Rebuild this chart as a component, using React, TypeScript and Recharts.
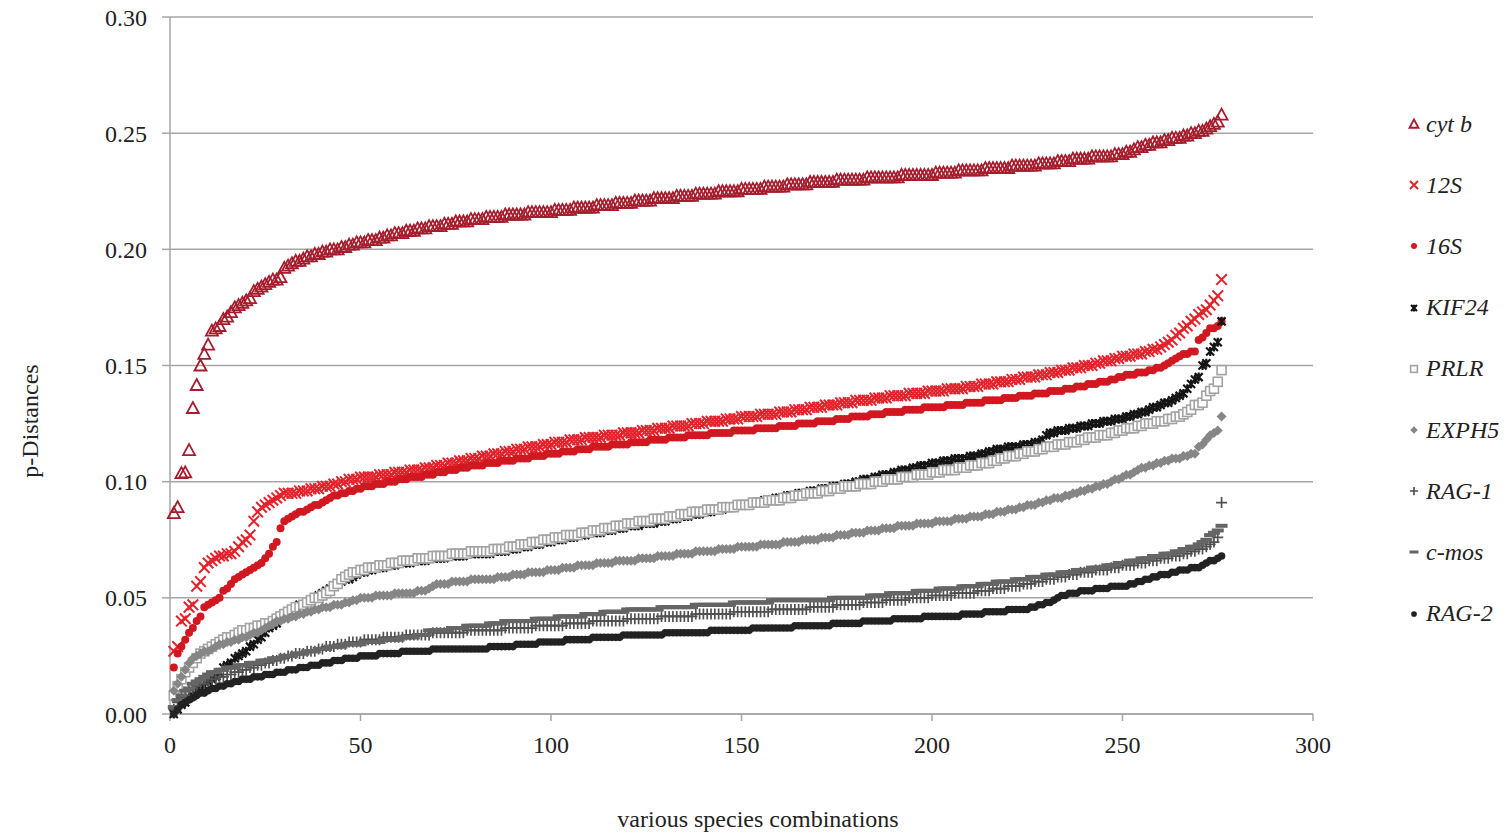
import React from 'react';
import { ScatterChart, Scatter, XAxis, YAxis, CartesianGrid } from 'recharts';

// p-distances per gene, sorted ascending; x = rank of the species pair (1..276)
const cytB = [
  .0865, .089, .1037, .104, .1136, .1317, .1416, .150, .155, .159,
  .165, .166, .167, .170, .171, .173, .175, .176, .177, .178,
  .179, .182, .183, .184, .185, .186, .187, .187, .188, .192,
  .193, .194, .195, .195, .196, .197, .197, .198, .198, .199,
  .199, .200, .200, .200, .201, .201, .202, .202, .203, .203,
  .203, .204, .204, .204, .205, .205, .206, .206, .207, .207,
  .207, .208, .208, .208, .209, .209, .209, .210, .210, .210,
  .210, .211, .211, .211, .212, .212, .212, .212, .213, .213,
  .213, .213, .214, .214, .214, .214, .214, .215, .215, .215,
  .215, .215, .215, .216, .216, .216, .216, .216, .216, .216,
  .217, .217, .217, .217, .217, .218, .218, .218, .218, .218,
  .218, .219, .219, .219, .219, .219, .220, .220, .220, .220,
  .220, .221, .221, .221, .221, .221, .222, .222, .222, .222,
  .222, .222, .223, .223, .223, .223, .223, .224, .224, .224,
  .224, .224, .224, .225, .225, .225, .225, .225, .225, .226,
  .226, .226, .226, .226, .226, .227, .227, .227, .227, .227,
  .227, .228, .228, .228, .228, .228, .228, .229, .229, .229,
  .229, .229, .229, .229, .230, .230, .230, .230, .230, .230,
  .230, .230, .231, .231, .231, .231, .231, .231, .231, .231,
  .231, .232, .232, .232, .232, .232, .232, .232, .232, .232,
  .233, .233, .233, .233, .233, .233, .234, .234, .234, .234,
  .234, .234, .234, .235, .235, .235, .235, .235, .235, .235,
  .236, .236, .236, .236, .236, .236, .236, .237, .237, .237,
  .237, .237, .238, .238, .238, .238, .239, .239, .239, .239,
  .239, .240, .240, .240, .240, .240, .240, .241, .241, .241,
  .242, .242, .243, .244, .244, .245, .245, .246, .246, .246,
  .247, .247, .248, .248, .248, .249, .249, .250, .250, .251,
  .251, .252, .253, .254, .255, .258,
];

const s12 = [
  .027, .029, .040, .041, .046, .047, .055, .057, .063, .065,
  .066, .067, .068, .068, .069, .069, .070, .072, .074, .075,
  .077, .083, .087, .089, .090, .091, .092, .093, .094, .095,
  .095, .095, .095, .096, .096, .096, .097, .097, .097, .098,
  .098, .098, .099, .099, .100, .100, .101, .101, .101, .102,
  .102, .102, .102, .102, .103, .103, .103, .103, .104, .104,
  .104, .104, .105, .105, .105, .105, .106, .106, .106, .107,
  .107, .107, .108, .108, .108, .109, .109, .109, .110, .110,
  .110, .111, .111, .111, .112, .112, .112, .113, .113, .113,
  .114, .114, .114, .115, .115, .115, .115, .116, .116, .116,
  .117, .117, .117, .117, .118, .118, .118, .118, .119, .119,
  .119, .119, .119, .120, .120, .120, .120, .120, .121, .121,
  .121, .121, .121, .122, .122, .122, .122, .123, .123, .123,
  .123, .124, .124, .124, .124, .124, .125, .125, .125, .125,
  .126, .126, .126, .126, .126, .127, .127, .127, .127, .128,
  .128, .128, .128, .128, .129, .129, .129, .129, .129, .130,
  .130, .130, .130, .131, .131, .131, .131, .132, .132, .132,
  .132, .133, .133, .133, .133, .134, .134, .134, .134, .135,
  .135, .135, .135, .135, .136, .136, .136, .136, .137, .137,
  .137, .137, .137, .138, .138, .138, .138, .138, .139, .139,
  .139, .139, .139, .140, .140, .140, .140, .140, .141, .141,
  .141, .141, .142, .142, .142, .142, .143, .143, .143, .143,
  .144, .144, .144, .145, .145, .145, .145, .146, .146, .146,
  .147, .147, .147, .148, .148, .148, .149, .149, .149, .150,
  .150, .150, .151, .151, .152, .152, .152, .153, .153, .154,
  .154, .154, .155, .155, .155, .156, .156, .157, .157, .158,
  .159, .160, .161, .163, .164, .166, .167, .169, .170, .172,
  .173, .174, .176, .178, .180, .187,
];

const s16 = [
  .020, .026, .029, .032, .035, .037, .040, .042, .046, .047,
  .048, .049, .050, .053, .054, .056, .058, .059, .060, .061,
  .062, .063, .064, .065, .067, .069, .072, .074, .080, .083,
  .084, .085, .086, .087, .087, .088, .089, .090, .090, .091,
  .092, .093, .094, .094, .095, .095, .096, .096, .097, .097,
  .098, .098, .098, .099, .099, .099, .100, .100, .100, .101,
  .101, .101, .102, .102, .102, .102, .103, .103, .103, .104,
  .104, .104, .105, .105, .105, .106, .106, .106, .107, .107,
  .107, .107, .108, .108, .108, .108, .109, .109, .109, .109,
  .110, .110, .110, .110, .111, .111, .111, .111, .112, .112,
  .112, .112, .113, .113, .113, .113, .114, .114, .114, .114,
  .115, .115, .115, .115, .115, .116, .116, .116, .116, .116,
  .117, .117, .117, .117, .117, .118, .118, .118, .118, .118,
  .119, .119, .119, .119, .119, .120, .120, .120, .120, .120,
  .120, .121, .121, .121, .121, .121, .121, .122, .122, .122,
  .122, .122, .122, .123, .123, .123, .123, .123, .123, .124,
  .124, .124, .124, .124, .125, .125, .125, .125, .125, .126,
  .126, .126, .126, .126, .127, .127, .127, .127, .128, .128,
  .128, .128, .128, .129, .129, .129, .129, .130, .130, .130,
  .130, .130, .131, .131, .131, .131, .131, .132, .132, .132,
  .132, .132, .132, .133, .133, .133, .133, .133, .134, .134,
  .134, .134, .134, .135, .135, .135, .135, .135, .136, .136,
  .136, .136, .137, .137, .137, .137, .138, .138, .138, .138,
  .139, .139, .139, .139, .140, .140, .140, .141, .141, .141,
  .142, .142, .142, .143, .143, .143, .144, .144, .145, .145,
  .146, .146, .146, .147, .147, .147, .148, .148, .149, .149,
  .150, .151, .152, .153, .154, .155, .155, .156, .156, .161,
  .162, .164, .166, .166, .167, .169,
];

const kif24 = [
  .000, .002, .004, .005, .007, .008, .010, .011, .012, .014,
  .015, .016, .018, .020, .021, .022, .024, .025, .026, .027,
  .029, .030, .032, .033, .035, .037, .038, .039, .041, .042,
  .043, .044, .045, .047, .047, .048, .049, .050, .051, .052,
  .053, .054, .055, .056, .057, .058, .058, .059, .060, .061,
  .061, .062, .062, .063, .063, .063, .064, .064, .064, .065,
  .065, .065, .065, .066, .066, .066, .066, .067, .067, .067,
  .067, .067, .068, .068, .068, .068, .068, .069, .069, .069,
  .069, .069, .069, .069, .070, .070, .070, .070, .071, .071,
  .071, .072, .072, .072, .073, .073, .073, .074, .074, .074,
  .075, .075, .075, .076, .076, .076, .077, .077, .077, .078,
  .078, .078, .078, .079, .079, .079, .080, .080, .080, .081,
  .081, .081, .081, .082, .082, .082, .082, .083, .083, .083,
  .084, .084, .084, .085, .085, .085, .086, .086, .086, .087,
  .087, .087, .088, .088, .088, .089, .089, .089, .090, .090,
  .090, .090, .091, .091, .091, .092, .092, .092, .093, .093,
  .093, .094, .094, .094, .095, .095, .095, .096, .096, .096,
  .097, .097, .097, .098, .098, .098, .099, .099, .099, .100,
  .100, .101, .101, .101, .102, .102, .103, .103, .103, .104,
  .104, .105, .105, .105, .106, .106, .107, .107, .107, .108,
  .108, .108, .109, .109, .109, .110, .110, .110, .110, .111,
  .111, .111, .112, .112, .113, .113, .114, .114, .114, .115,
  .115, .115, .115, .116, .116, .116, .117, .117, .118, .120,
  .121, .121, .122, .122, .122, .123, .123, .123, .124, .124,
  .124, .125, .125, .125, .126, .126, .126, .127, .127, .127,
  .128, .128, .129, .129, .130, .130, .131, .132, .132, .133,
  .134, .134, .135, .136, .137, .138, .140, .142, .144, .145,
  .150, .151, .156, .158, .160, .169,
];

const prlr = [
  .008, .012, .015, .018, .020, .022, .024, .026, .027, .028,
  .029, .030, .031, .032, .033, .033, .034, .035, .036, .036,
  .037, .037, .038, .038, .039, .039, .040, .041, .042, .043,
  .044, .045, .046, .046, .047, .048, .049, .050, .050, .051,
  .052, .053, .055, .056, .058, .059, .060, .061, .061, .062,
  .062, .063, .063, .063, .064, .064, .064, .065, .065, .065,
  .066, .066, .066, .066, .067, .067, .067, .067, .068, .068,
  .068, .068, .068, .069, .069, .069, .069, .069, .070, .070,
  .070, .070, .070, .070, .071, .071, .071, .071, .072, .072,
  .072, .073, .073, .073, .074, .074, .074, .075, .075, .075,
  .076, .076, .076, .077, .077, .077, .077, .078, .078, .078,
  .079, .079, .079, .080, .080, .080, .081, .081, .081, .082,
  .082, .082, .083, .083, .083, .083, .084, .084, .084, .084,
  .085, .085, .085, .086, .086, .086, .087, .087, .087, .087,
  .088, .088, .088, .088, .089, .089, .089, .089, .090, .090,
  .090, .090, .091, .091, .091, .091, .092, .092, .092, .092,
  .093, .093, .093, .094, .094, .094, .095, .095, .095, .095,
  .096, .096, .096, .097, .097, .097, .098, .098, .098, .098,
  .099, .099, .099, .099, .100, .100, .100, .101, .101, .101,
  .101, .102, .102, .102, .102, .103, .103, .103, .103, .104,
  .104, .104, .105, .105, .105, .105, .106, .106, .106, .107,
  .107, .107, .108, .108, .108, .109, .109, .110, .110, .111,
  .111, .111, .112, .112, .113, .113, .113, .114, .114, .115,
  .115, .115, .116, .116, .116, .117, .117, .117, .118, .118,
  .119, .119, .119, .120, .120, .120, .121, .121, .122, .122,
  .123, .123, .123, .124, .124, .125, .125, .125, .126, .126,
  .126, .127, .127, .128, .128, .129, .130, .131, .133, .133,
  .134, .137, .139, .140, .143, .148,
];

const exph5 = [
  .010, .013, .016, .019, .022, .024, .025, .026, .027, .027,
  .028, .029, .030, .030, .031, .031, .032, .032, .033, .033,
  .034, .035, .035, .036, .037, .038, .039, .040, .040, .041,
  .041, .042, .042, .043, .043, .044, .044, .045, .045, .046,
  .046, .046, .047, .047, .047, .048, .048, .049, .049, .050,
  .050, .050, .050, .051, .051, .051, .051, .051, .052, .052,
  .052, .052, .052, .052, .053, .053, .053, .054, .055, .056,
  .056, .056, .056, .057, .057, .057, .057, .057, .058, .058,
  .058, .058, .058, .058, .058, .059, .059, .059, .059, .060,
  .060, .060, .060, .061, .061, .061, .061, .061, .062, .062,
  .062, .062, .063, .063, .063, .063, .064, .064, .064, .064,
  .064, .065, .065, .065, .065, .065, .066, .066, .066, .066,
  .066, .066, .067, .067, .067, .067, .067, .068, .068, .068,
  .068, .068, .069, .069, .069, .069, .069, .070, .070, .070,
  .070, .070, .070, .071, .071, .071, .071, .071, .072, .072,
  .072, .072, .072, .072, .073, .073, .073, .073, .073, .073,
  .074, .074, .074, .074, .074, .075, .075, .075, .075, .075,
  .076, .076, .076, .076, .077, .077, .077, .077, .078, .078,
  .078, .078, .079, .079, .079, .079, .080, .080, .080, .080,
  .081, .081, .081, .081, .081, .082, .082, .082, .082, .082,
  .083, .083, .083, .083, .083, .084, .084, .084, .084, .085,
  .085, .085, .085, .086, .086, .086, .087, .087, .087, .088,
  .088, .088, .089, .089, .090, .090, .090, .091, .091, .092,
  .092, .093, .093, .093, .094, .094, .095, .095, .096, .096,
  .097, .097, .098, .098, .099, .099, .100, .101, .101, .102,
  .103, .103, .104, .105, .106, .106, .107, .107, .108, .108,
  .109, .109, .110, .110, .110, .111, .111, .112, .112, .115,
  .116, .118, .120, .121, .122, .128,
];

const rag1 = [
  .002, .005, .007, .008, .010, .011, .012, .013, .013, .014,
  .015, .015, .016, .016, .017, .017, .018, .018, .019, .019,
  .020, .020, .021, .021, .022, .022, .023, .023, .024, .024,
  .025, .025, .026, .026, .026, .027, .027, .027, .028, .028,
  .029, .029, .029, .030, .030, .030, .031, .031, .031, .031,
  .032, .032, .032, .032, .032, .033, .033, .033, .033, .033,
  .033, .034, .034, .034, .034, .034, .034, .034, .035, .035,
  .035, .035, .035, .035, .035, .035, .035, .036, .036, .036,
  .036, .036, .036, .036, .036, .036, .036, .037, .037, .037,
  .037, .037, .037, .037, .037, .038, .038, .038, .038, .038,
  .038, .038, .038, .039, .039, .039, .039, .039, .039, .039,
  .040, .040, .040, .040, .040, .040, .040, .040, .040, .041,
  .041, .041, .041, .041, .041, .041, .041, .041, .042, .042,
  .042, .042, .042, .042, .042, .042, .042, .043, .043, .043,
  .043, .043, .043, .043, .043, .043, .043, .044, .044, .044,
  .044, .044, .044, .044, .044, .044, .044, .045, .045, .045,
  .045, .045, .045, .045, .045, .045, .045, .046, .046, .046,
  .046, .046, .046, .046, .047, .047, .047, .047, .047, .047,
  .047, .048, .048, .048, .048, .048, .048, .049, .049, .049,
  .049, .049, .049, .050, .050, .050, .050, .050, .050, .051,
  .051, .051, .051, .051, .051, .052, .052, .052, .052, .052,
  .052, .053, .053, .053, .053, .054, .054, .054, .054, .055,
  .055, .055, .055, .056, .056, .056, .057, .057, .057, .058,
  .058, .058, .059, .059, .059, .060, .060, .060, .061, .061,
  .061, .061, .062, .062, .062, .062, .063, .063, .063, .064,
  .064, .064, .064, .065, .065, .065, .066, .066, .066, .067,
  .067, .067, .068, .068, .068, .069, .069, .070, .070, .071,
  .071, .072, .073, .074, .076, .091,
];

const cmos = [
  .003, .006, .008, .010, .011, .013, .014, .015, .016, .017,
  .018, .018, .019, .019, .020, .020, .020, .021, .021, .021,
  .022, .022, .022, .023, .023, .023, .024, .024, .024, .025,
  .025, .025, .026, .026, .026, .027, .027, .027, .028, .028,
  .028, .029, .029, .029, .029, .030, .030, .030, .030, .030,
  .031, .031, .031, .031, .031, .032, .032, .032, .032, .032,
  .033, .033, .033, .033, .034, .034, .034, .036, .036, .036,
  .036, .036, .036, .037, .037, .037, .037, .038, .038, .038,
  .038, .038, .038, .039, .039, .039, .039, .040, .040, .040,
  .040, .040, .040, .040, .040, .041, .041, .041, .041, .041,
  .041, .042, .042, .042, .042, .042, .042, .042, .043, .043,
  .043, .043, .043, .044, .044, .044, .044, .044, .044, .045,
  .045, .045, .045, .045, .045, .045, .045, .045, .046, .046,
  .046, .046, .046, .046, .046, .046, .046, .047, .047, .047,
  .047, .047, .047, .047, .047, .047, .047, .048, .048, .048,
  .048, .048, .048, .048, .048, .048, .048, .049, .049, .049,
  .049, .049, .049, .049, .049, .049, .049, .049, .049, .049,
  .049, .049, .049, .050, .050, .050, .050, .050, .050, .050,
  .050, .050, .050, .051, .051, .051, .051, .051, .052, .052,
  .052, .052, .052, .052, .052, .053, .053, .053, .053, .053,
  .053, .054, .054, .054, .054, .054, .054, .055, .055, .055,
  .055, .055, .056, .056, .056, .056, .057, .057, .057, .057,
  .057, .058, .058, .058, .058, .059, .059, .059, .059, .060,
  .060, .060, .060, .061, .061, .061, .061, .062, .062, .062,
  .062, .063, .063, .063, .063, .064, .064, .064, .065, .065,
  .065, .066, .066, .066, .067, .067, .067, .068, .068, .068,
  .069, .069, .069, .070, .070, .071, .071, .072, .072, .073,
  .074, .075, .077, .078, .079, .081,
];

const rag2 = [
  .000, .002, .004, .005, .006, .007, .008, .009, .009, .010,
  .011, .011, .012, .012, .013, .013, .014, .014, .015, .015,
  .015, .016, .016, .016, .017, .017, .017, .018, .018, .018,
  .019, .019, .019, .020, .020, .020, .021, .021, .021, .022,
  .022, .022, .023, .023, .023, .024, .024, .024, .024, .025,
  .025, .025, .025, .025, .026, .026, .026, .026, .026, .026,
  .027, .027, .027, .027, .027, .027, .027, .027, .028, .028,
  .028, .028, .028, .028, .028, .028, .028, .028, .028, .028,
  .028, .028, .028, .029, .029, .029, .029, .029, .029, .029,
  .030, .030, .030, .030, .030, .030, .031, .031, .031, .031,
  .031, .031, .031, .032, .032, .032, .032, .032, .032, .032,
  .033, .033, .033, .033, .033, .033, .033, .033, .034, .034,
  .034, .034, .034, .034, .034, .034, .034, .034, .034, .035,
  .035, .035, .035, .035, .035, .035, .035, .035, .035, .035,
  .035, .036, .036, .036, .036, .036, .036, .036, .036, .036,
  .036, .036, .037, .037, .037, .037, .037, .037, .037, .037,
  .037, .037, .037, .038, .038, .038, .038, .038, .038, .038,
  .038, .038, .038, .039, .039, .039, .039, .039, .039, .039,
  .039, .040, .040, .040, .040, .040, .040, .040, .040, .041,
  .041, .041, .041, .041, .041, .041, .041, .042, .042, .042,
  .042, .042, .042, .042, .042, .042, .042, .043, .043, .043,
  .043, .043, .043, .044, .044, .044, .044, .044, .044, .045,
  .045, .045, .045, .045, .045, .046, .046, .047, .047, .048,
  .048, .049, .050, .051, .051, .052, .052, .052, .053, .053,
  .053, .053, .054, .054, .054, .054, .055, .055, .055, .055,
  .055, .056, .056, .057, .057, .058, .058, .059, .059, .060,
  .060, .060, .061, .061, .062, .062, .062, .063, .063, .063,
  .064, .065, .066, .066, .067, .068,
];

const xTicks = [0, 50, 100, 150, 200, 250, 300];
const yTicks = [0, 0.05, 0.1, 0.15, 0.2, 0.25, 0.3];

const FONT = '"Liberation Serif", "Times New Roman", serif';
const AXIS = '#a6a6a6';

const toPoints = (vals: number[]) => vals.map((y, i) => ({ x: i + 1, y }));

// marker drawers, shared by plot and legend
type M = { cx: number; cy: number; s?: number };

const Tri = ({ cx, cy, s = 1 }: M) => (
  <path
    d={`M${cx},${cy - 6 * s}L${cx + 6 * s},${cy + 5 * s}L${cx - 6 * s},${cy + 5 * s}Z`}
    fill="none" stroke="#a51d2d" strokeWidth={1.8}
  />
);
const Cross = ({ cx, cy, s = 1 }: M) => (
  <path
    d={`M${cx - 5.3 * s},${cy - 5.3 * s}L${cx + 5.3 * s},${cy + 5.3 * s}M${cx - 5.3 * s},${cy + 5.3 * s}L${cx + 5.3 * s},${cy - 5.3 * s}`}
    stroke="#e4222b" strokeWidth={2}
  />
);
const RedDot = ({ cx, cy, s = 1 }: M) => <circle cx={cx} cy={cy} r={4 * s} fill="#d11820" />;
const Star = ({ cx, cy, s = 1 }: M) => (
  <path
    d={`M${cx - 4 * s},${cy - 4 * s}L${cx + 4 * s},${cy + 4 * s}M${cx - 4 * s},${cy + 4 * s}L${cx + 4 * s},${cy - 4 * s}M${cx},${cy - 4.5 * s}L${cx},${cy + 4.5 * s}`}
    stroke="#151515" strokeWidth={2.2}
  />
);
const Square = ({ cx, cy, s = 1 }: M) => (
  <rect x={cx - 4.5 * s} y={cy - 4.5 * s} width={9 * s} height={9 * s} fill="#fff" stroke="#a3a3a3" strokeWidth={1.6} />
);
const Diamond = ({ cx, cy, s = 1 }: M) => (
  <path d={`M${cx},${cy - 5 * s}L${cx + 5 * s},${cy}L${cx},${cy + 5 * s}L${cx - 5 * s},${cy}Z`} fill="#868686" />
);
const Plus = ({ cx, cy, s = 1 }: M) => (
  <path d={`M${cx - 5.5 * s},${cy}L${cx + 5.5 * s},${cy}M${cx},${cy - 5.5 * s}L${cx},${cy + 5.5 * s}`} stroke="#505050" strokeWidth={1.7} />
);
const Dash = ({ cx, cy, s = 1 }: M) => (
  <rect x={cx - 6 * s} y={cy - 2 * s} width={12 * s} height={4 * s} fill="#656565" />
);
const BlackDot = ({ cx, cy, s = 1 }: M) => <circle cx={cx} cy={cy} r={3.8 * s} fill="#222" />;

const series = [
  { name: 'cyt b', values: cytB, Shape: Tri },
  { name: '12S', values: s12, Shape: Cross },
  { name: '16S', values: s16, Shape: RedDot },
  { name: 'KIF24', values: kif24, Shape: Star },
  { name: 'PRLR', values: prlr, Shape: Square },
  { name: 'EXPH5', values: exph5, Shape: Diamond },
  { name: 'RAG-1', values: rag1, Shape: Plus },
  { name: 'c-mos', values: cmos, Shape: Dash },
  { name: 'RAG-2', values: rag2, Shape: BlackDot },
];

export default function App() {
  return (
    <div style={{ position: 'absolute', left: 0, top: 0, width: 1508, height: 837, background: '#fff', fontFamily: FONT }}>
      <ScatterChart width={1508} height={837} margin={{ top: 17, right: 195, bottom: 0, left: 10 }}>
        <CartesianGrid vertical={false} stroke={AXIS} strokeWidth={1.5} />
        <XAxis
          type="number"
          dataKey="x"
          domain={[0, 300]}
          ticks={xTicks}
          height={123}
          tickSize={7}
          tickMargin={15}
          stroke={AXIS}
          strokeWidth={1.5}
          tick={{ fill: '#222', fontSize: 24, fontFamily: FONT }}
          label={{
            content: () => (
              <text x={758} y={827} textAnchor="middle" fontSize={24} fontFamily={FONT} fill="#222">
                various species combinations
              </text>
            ),
          }}
        />
        <YAxis
          type="number"
          dataKey="y"
          domain={[0, 0.3]}
          ticks={yTicks}
          width={160}
          tickSize={8}
          tickMargin={15}
          stroke={AXIS}
          strokeWidth={1.5}
          tickFormatter={(v: number) => v.toFixed(2)}
          tick={{ fill: '#222', fontSize: 24, fontFamily: FONT }}
          label={{
            content: () => (
              <text
                x={30}
                y={421}
                transform="rotate(-90, 30, 421)"
                textAnchor="middle"
                dominantBaseline="central"
                fontSize={24}
                fontFamily={FONT}
                fill="#222"
              >
                p-Distances
              </text>
            ),
          }}
        />
        {series.map(({ name, values, Shape }) => (
          <Scatter
            key={name}
            name={name}
            data={toPoints(values)}
            isAnimationActive={false}
            shape={(p: any) => <Shape cx={p.cx} cy={p.cy} />}
          />
        ))}
      </ScatterChart>

      {/* legend */}
      {series.map(({ name, Shape }, i) => (
        <div
          key={name}
          style={{
            position: 'absolute',
            left: 1404,
            top: 124 + i * 61.2 - 14,
            height: 28,
            display: 'flex',
            alignItems: 'center',
            fontSize: 24,
            fontStyle: 'italic',
            color: '#222',
            whiteSpace: 'nowrap',
          }}
        >
          <svg width={20} height={28} style={{ marginRight: 2 }}>
            <Shape cx={10} cy={14} s={0.75} />
          </svg>
          {name}
        </div>
      ))}
    </div>
  );
}
